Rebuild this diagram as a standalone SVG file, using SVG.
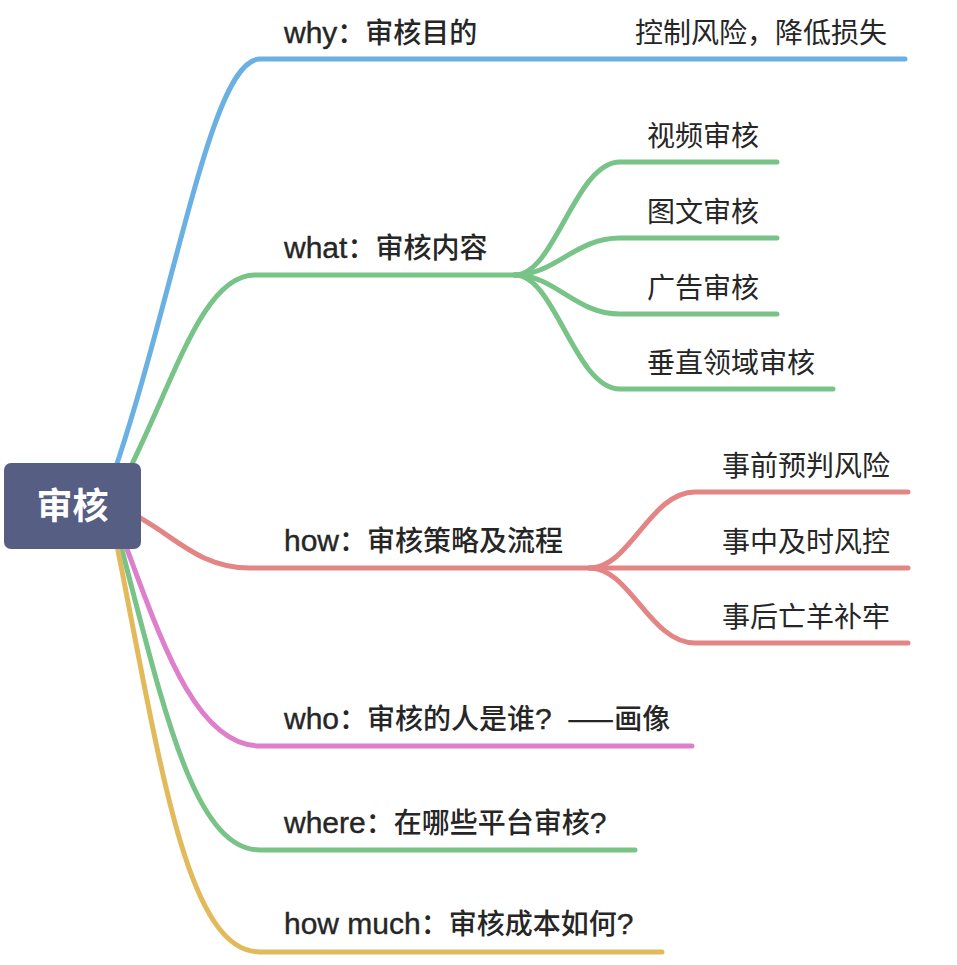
<svg xmlns="http://www.w3.org/2000/svg" width="957" height="965" viewBox="0 0 957 965">
<style>
.ln{fill:none;stroke-width:5;stroke-linecap:round;stroke-linejoin:round}
.blue{stroke:#6BB0E2}.green{stroke:#78C388}.red{stroke:#E38585}.pink{stroke:#DE7FCC}.yellow{stroke:#E2B95B}
text{font-family:"Noto Sans CJK SC","Liberation Sans",sans-serif;fill:#262626}
.main{font-size:28px;font-weight:500}
.sub{font-size:28px;font-weight:400}
.lat{font-family:"Liberation Sans","Noto Sans CJK SC",sans-serif;font-size:30px;stroke:#262626;stroke-width:0.4}
.root{font-size:36px;font-weight:700;fill:#ffffff}
</style>
<rect width="957" height="965" fill="#ffffff"/>
<g id="connectors">
<path class="ln blue" d="M108 490 C175 300 210 59 260 59 L905 59"/>
<path class="ln green" d="M119 490 C172 390 200 275 255 275 L515 275"/>
<path class="ln green" d="M515 275 C555 275 575 162 620 162 L777 162"/>
<path class="ln green" d="M515 275 C555 275 575 238 620 238 L777 238"/>
<path class="ln green" d="M515 275 C555 275 575 314 620 314 L777 314"/>
<path class="ln green" d="M515 275 C555 275 575 389 620 389 L833 389"/>
<path class="ln red" d="M125 510 C170 530 195 568 250 568 L590 568"/>
<path class="ln red" d="M590 568 C630 568 650 492 695 492 L908 492"/>
<path class="ln red" d="M590 568 L908 568"/>
<path class="ln red" d="M590 568 C630 568 650 643 695 643 L908 643"/>
<path class="ln pink" d="M116 520 C155 620 190 746 260 746 L692 746"/>
<path class="ln green" d="M114 520 C160 690 190 850 260 850 L635 850"/>
<path class="ln yellow" d="M112 520 C160 760 185 952 260 952 L662 952"/>
</g>
<g id="root">
<rect x="4" y="463" width="137" height="86" rx="7" fill="#565E83"/>
<text class="root" x="72.5" y="519" text-anchor="middle">审核</text>
</g>
<g id="why"><text class="main" x="284" y="43"><tspan class="lat">why</tspan>：审核目的</text></g>
<g id="why-1"><text class="sub" x="635" y="43">控制风险，降低损失</text></g>
<g id="what"><text class="main" x="284" y="258"><tspan class="lat">what</tspan>：审核内容</text></g>
<g id="what-1"><text class="sub" x="647" y="146">视频审核</text></g>
<g id="what-2"><text class="sub" x="647" y="222">图文审核</text></g>
<g id="what-3"><text class="sub" x="647" y="298">广告审核</text></g>
<g id="what-4"><text class="sub" x="647" y="373">垂直领域审核</text></g>
<g id="how"><text class="main" x="284" y="551"><tspan class="lat">how</tspan>：审核策略及流程</text></g>
<g id="how-1"><text class="sub" x="722" y="476">事前预判风险</text></g>
<g id="how-2"><text class="sub" x="722" y="552">事中及时风控</text></g>
<g id="how-3"><text class="sub" x="722" y="627">事后亡羊补牢</text></g>
<g id="who"><text class="main" x="284" y="729"><tspan class="lat">who</tspan>：审核的人是谁<tspan class="lat">? </tspan><tspan dx="7">——画像</tspan></text></g>
<g id="where"><text class="main" x="284" y="833"><tspan class="lat">where</tspan>：在哪些平台审核<tspan class="lat">?</tspan></text></g>
<g id="howmuch"><text class="main" x="284" y="934"><tspan class="lat">how much</tspan>：审核成本如何<tspan class="lat">?</tspan></text></g>
</svg>
